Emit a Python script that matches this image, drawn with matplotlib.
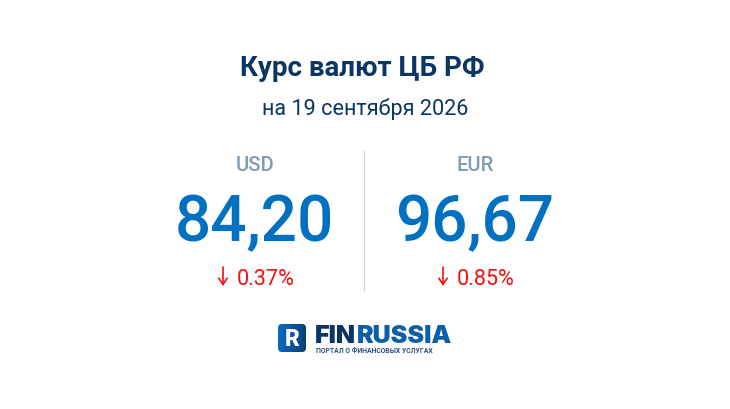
import matplotlib
matplotlib.use("Agg")
import matplotlib.pyplot as plt
from matplotlib.patches import FancyBboxPatch
import numpy as np

plt.rcParams['font.family'] = ['Roboto', 'DejaVu Sans']

title = "Курс валют ЦБ РФ"
subtitle = "на 19 сентября 2026"
currencies = ["USD", "EUR"]
rates = ["84,20", "96,67"]
changes = ["0.37%", "0.85%"]

navy = "#0b3565"
blue = "#0070c0"
grey = "#8499b2"
red = "#f50f0f"

fig = plt.figure(figsize=(7.3, 4.1), dpi=100, facecolor="white")
ax = fig.add_axes([0, 0, 1, 1])
ax.set_xlim(0, 730)
ax.set_ylim(410, 0)
ax.axis("off")

ax.text(362, 68, title, fontsize=20, fontweight="bold", color=navy, ha="center", va="center")
ax.text(365, 109, subtitle, fontsize=15.6, color=navy, ha="center", va="center")

# two columns
centers = [255, 475]
for i in range(2):
    c = centers[i]
    ax.text(c, 166, currencies[i], fontsize=14.5, fontweight="medium", color=grey, ha="center", va="center")
    ax.text(c - 0.5, 216.5, rates[i], fontsize=46, fontweight="medium", color=blue, ha="center", va="center_baseline")
    ax.annotate("", xy=(c - 32, 287), xytext=(c - 32, 268),
                arrowprops=dict(arrowstyle="->,head_width=0.3,head_length=0.45", color=red, lw=1.2,
                                shrinkA=0, shrinkB=0))
    ax.text(c + 10.5, 280, changes[i], fontsize=15.6, color=red, ha="center", va="center")

ax.plot([364, 364], [152, 291], color="#cfd8e1", lw=1)

# logo
grad = np.linspace(0, 1, 64).reshape(1, -1) * np.ones((64, 64))
cmap = matplotlib.colors.LinearSegmentedColormap.from_list("logo", ["#0a6cc0", "#0b3f7a"])
im = ax.imshow(grad, extent=(278, 306, 353, 325), cmap=cmap, aspect="auto", zorder=2)
ax.set_xlim(0, 730)
ax.set_ylim(410, 0)
box = FancyBboxPatch((280, 327), 24, 24, boxstyle="round,pad=2,rounding_size=4",
                     fc="none", ec="none", transform=ax.transData)
ax.add_patch(box)
im.set_clip_path(box)
ax.text(292, 339.5, "R", fontsize=16.5, fontweight="black", color="white", ha="center", va="center", zorder=3)

t1 = ax.text(315, 343, "FIN", fontsize=18, fontweight="black", family="Inter", color=navy, ha="left", va="baseline")
fig.canvas.draw()
bb = t1.get_window_extent()
ax.text(bb.x1 + 0.5, 343, "RUSSIA", fontsize=18, fontweight="black", family="Inter", color="#0a5fa8",
        ha="left", va="baseline")
ax.text(316, 353.5, "ПОРТАЛ О ФИНАНСОВЫХ УСЛУГАХ", fontsize=4.95, fontweight="bold", color="#2a5080",
        ha="left", va="baseline")

fig.savefig("out.png", dpi=100, facecolor="white")
